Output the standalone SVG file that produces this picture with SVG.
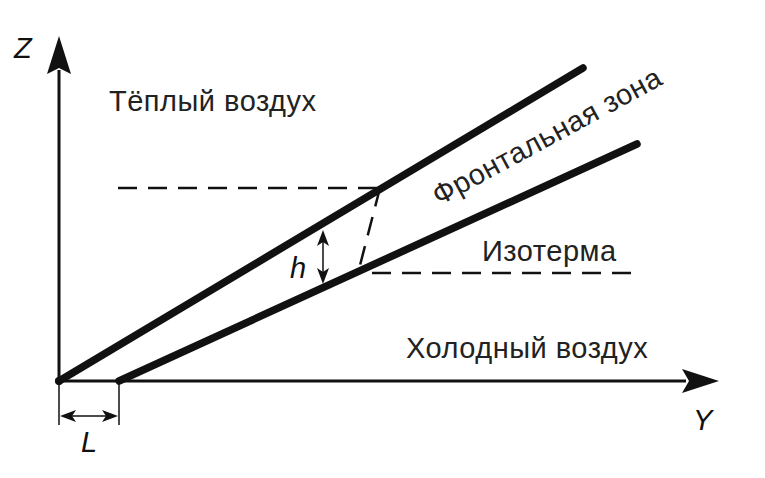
<svg xmlns="http://www.w3.org/2000/svg" width="765" height="478" viewBox="0 0 765 478">
<defs>
<style>
.t{font-family:"Liberation Sans",Arial,sans-serif;font-size:29px;letter-spacing:0.5px;fill:#222}
.i{font-family:"Liberation Sans",Arial,sans-serif;font-size:29px;font-style:italic;fill:#111}
.ax{stroke:#111;stroke-width:3;fill:none}
.th{stroke:#111;stroke-width:7.5;stroke-linecap:round;fill:none}
.d{stroke:#111;stroke-width:2.5;stroke-dasharray:19,11;fill:none}
.thin{stroke:#111;stroke-width:1.5;fill:none}
</style>
</defs>
<rect width="765" height="478" fill="#fff"/>
<g id="connectors">
<line class="ax" x1="59" y1="381" x2="59" y2="70"/>
<path d="M59,36 L71,74 L59,68 L47,74 Z" fill="#111"/>
<line class="ax" x1="59" y1="381" x2="686" y2="381"/>
<path d="M719,381 L682,369 L689,381 L682,393 Z" fill="#111"/>
<circle cx="59" cy="381" r="4" fill="#111"/>
<line class="th" x1="59" y1="381" x2="583" y2="68"/>
<line class="th" x1="119" y1="381" x2="637" y2="144"/>
<line class="d" x1="118" y1="188" x2="380" y2="188"/>
<line class="d" x1="372" y1="273" x2="642" y2="273"/>
<line class="d" x1="380" y1="188" x2="358" y2="273"/>
<line class="thin" x1="323" y1="236" x2="323" y2="278" stroke-width="2"/>
<path d="M323,230 L329,246 L323,242 L317,246 Z M323,284 L329,268 L323,272 L317,268 Z" fill="#111"/>
<line class="thin" x1="59" y1="381" x2="59" y2="425"/>
<line class="thin" x1="119" y1="381" x2="119" y2="425"/>
<line class="thin" x1="66" y1="416" x2="112" y2="416" stroke-width="2"/>
<path d="M60,416 L76,410 L72,416 L76,422 Z M118,416 L102,410 L106,416 L102,422 Z" fill="#111"/>
</g>
<g id="labels">
<text class="i" x="14" y="58">Z</text>
<text class="i" x="693" y="430">Y</text>
<text class="i" x="81" y="452">L</text>
<text class="i" x="290" y="278">h</text>
<text class="t" x="109" y="111">Тёплый воздух</text>
<text class="t" x="406" y="358" letter-spacing="1px">Холодный воздух</text>
<text class="t" x="482" y="261" letter-spacing="-0.5px">Изотерма</text>
<text class="t" transform="translate(439,206) rotate(-28.5)">Фронтальная зона</text>
</g>
</svg>
